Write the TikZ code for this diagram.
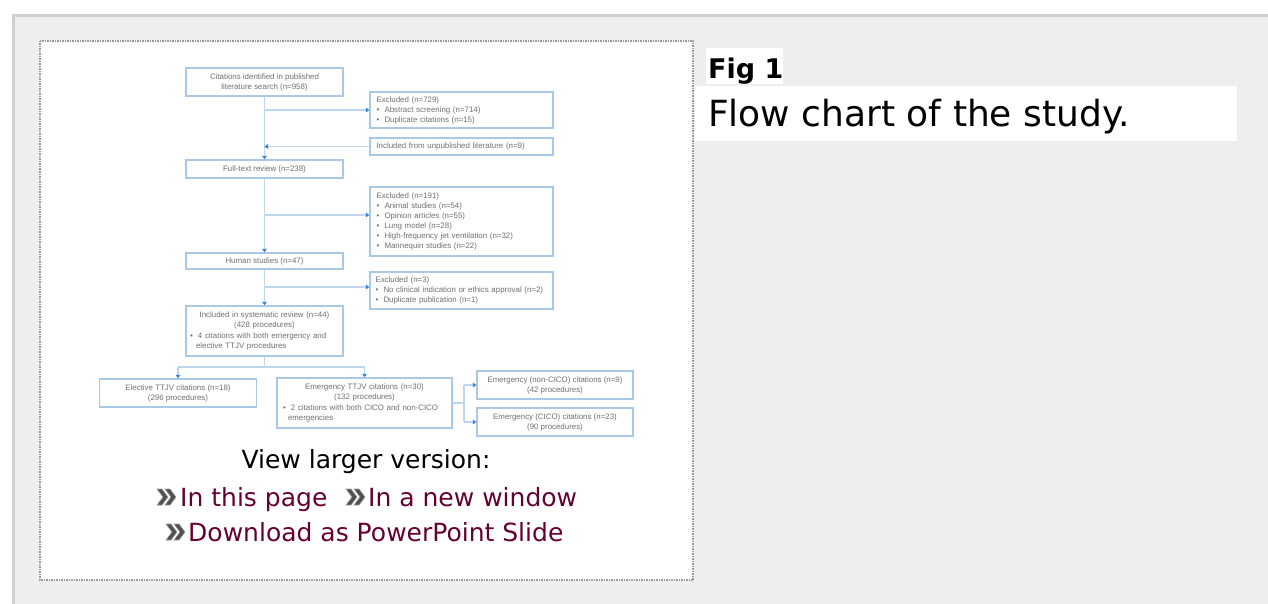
\documentclass[tikz,border=0pt]{standalone}
\usepackage{fontspec}
\setmainfont{DejaVu Sans}
\newfontfamily\boxfont{Liberation Sans}
\usetikzlibrary{arrows.meta}
\definecolor{outerbg}{HTML}{EEEEEE}
\definecolor{outerline}{HTML}{CFCFCF}
\definecolor{dotgray}{HTML}{9A9A9A}
\definecolor{boxblue}{HTML}{A9C9E9}
\definecolor{linkblue}{HTML}{BCD6EF}
\definecolor{tipblue}{HTML}{3C7FC8}
\definecolor{boxtext}{HTML}{707070}
\definecolor{linkred}{HTML}{660033}
\definecolor{chev}{HTML}{505050}
\definecolor{chevlight}{HTML}{9A9A9A}
\newcommand{\bitem}[1]{\makebox[8pt][l]{\textbullet}#1}
\tikzset{
  fcbox/.style={draw=boxblue, line width=1.3pt, fill=white, text=boxtext, inner sep=0pt,
    font=\boxfont\fontsize{7.9}{10}\selectfont, align=center},
  fclist/.style={fcbox, align=left},
  conn/.style={draw=linkblue, line width=1.6pt},
  arr/.style={conn, -{Triangle[length=3.5pt,width=4.5pt,color=tipblue]}},
  webtxt/.style={inner sep=0pt, anchor=base west, font=\fontsize{25}{30}\selectfont},
  link/.style={webtxt, text=linkred},
  dchev/.pic={
    \fill[chev, draw=chevlight, line width=0.6pt] (0,0)--(5,0)--(11,8)--(5,16)--(0,16)--(6,8)--cycle;
    \fill[chev, draw=chevlight, line width=0.6pt] (8,0)--(13,0)--(19,8)--(13,16)--(8,16)--(14,8)--cycle;
  },
}
\begin{document}
\begin{tikzpicture}[x=1pt, y=-1pt]
\useasboundingbox (0,0) rectangle (1268,604);
% page background
\fill[white] (0,0) rectangle (1268,604);
\fill[outerbg] (12,14) rectangle (1268,604);
\fill[outerline] (12,14) rectangle (1268,17);
\fill[outerline] (12,14) rectangle (15,604);
% figure panel
\draw[dotgray, line width=1.5pt, dash pattern=on 1.5pt off 1pt, fill=white] (40,41) rectangle (693,580);

% flow chart boxes
\node[fcbox, minimum width=157pt, minimum height=28pt] (b1) at (264.5,82)
  {Citations identified in published\\literature search (n=958)};
\node[fclist, minimum width=183pt, minimum height=36pt, text width=170pt] (e1) at (461.5,110)
  {Excluded (n=729)\\\bitem{Abstract screening (n=714)}\\\bitem{Duplicate citations (n=15)}};
\node[fclist, minimum width=183pt, minimum height=17pt, text width=170pt] (u1) at (461.5,146.5)
  {Included from unpublished literature (n=9)};
\node[fcbox, minimum width=157pt, minimum height=18pt] (b2) at (264.5,169)
  {Full-text review (n=238)};
\node[fclist, minimum width=183pt, minimum height=69pt, text width=170pt] (e2) at (461.5,221.5)
  {Excluded (n=191)\\\bitem{Animal studies (n=54)}\\\bitem{Opinion articles (n=55)}\\\bitem{Lung model (n=28)}\\\bitem{High-frequency jet ventilation (n=32)}\\\bitem{Mannequin studies (n=22)}};
\node[fcbox, minimum width=157pt, minimum height=16pt] (b3) at (264.5,261)
  {Human studies (n=47)};
\node[fclist, minimum width=183pt, minimum height=37pt, text width=172pt] (e3) at (461.5,290.5)
  {Excluded (n=3)\\\bitem{No clinical indication or ethics approval (n=2)}\\\bitem{Duplicate publication (n=1)}};
\node[fclist, minimum width=157pt, minimum height=50pt, text width=149pt] (b4) at (264.5,331)
  {\makebox[149pt]{Included in systematic review (n=44)}\\\makebox[149pt]{(428 procedures)}\\[1.5pt]\bitem{4 citations with both emergency and}\\\hspace*{6pt}elective TTJV procedures};
\node[fcbox, minimum width=157pt, minimum height=28pt] (b5) at (178,393)
  {Elective TTJV citations (n=18)\\(296 procedures)};
\node[fclist, minimum width=175pt, minimum height=50pt, text width=163pt] (b6) at (364.5,403)
  {\makebox[163pt]{Emergency TTJV citations (n=30)}\\\makebox[163pt]{(132 procedures)}\\[1pt]\bitem{2 citations with both CICO and non-CICO}\\\hspace*{5pt}emergencies};
\node[fcbox, minimum width=156pt, minimum height=28pt] (b7) at (555,385)
  {Emergency (non-CICO) citations (n=9)\\(42 procedures)};
\node[fcbox, minimum width=156pt, minimum height=28pt] (b8) at (555,422)
  {Emergency (CICO) citations (n=23)\\(90 procedures)};

% connectors
\draw[arr] (b1.south) -- (b2.north);
\coordinate (j1) at (b1.south |- e1.west);
\draw[arr] (j1) -- (e1.west);
\coordinate (j2) at (u1.west -| b1.south);
\draw[arr] (u1.west) -- (j2);
\draw[arr] (b2.south) -- (b3.north);
\coordinate (j3) at (264.5,215);
\coordinate (k3) at (e2.west |- j3);
\draw[arr] (j3) -- (k3);
\draw[arr] (b3.south) -- (b4.north);
\coordinate (j4) at (264.5,287);
\coordinate (k4) at (e3.west |- j4);
\draw[arr] (j4) -- (k4);
\coordinate (s0) at (264.5,367);
\coordinate (s1) at (b5.north |- s0);
\coordinate (s2) at (b6.north |- s0);
\draw[conn] (b4.south) -- (s0);
\draw[conn] (s1) -- (s2);
\draw[arr] (s1) -- (b5.north);
\draw[arr] (s2) -- (b6.north);
\coordinate (r0) at (464,403);
\coordinate (r1) at (r0 |- b7.west);
\coordinate (r2) at (r0 |- b8.west);
\draw[conn] (b6.east) -- (r0);
\draw[conn] (r1) -- (r2);
\draw[arr] (r1) -- (b7.west);
\draw[arr] (r2) -- (b8.west);

% links below the figure
\node[webtxt, anchor=base] (vl) at (366,468) {View larger version:};
\pic at (157,489) {dchev};
\node[link] (l1) at (180,506) {In this page};
\pic at (346,489) {dchev};
\node[link] (l2) at (368,506) {In a new window};
\pic at (166,524) {dchev};
\node[link] (l3) at (188,541) {Download as PowerPoint Slide};

% caption
\node[fill=white, inner sep=0pt, minimum width=77pt, minimum height=36pt, anchor=north west] (figbox) at (706,48) {};
\node[inner sep=0pt, anchor=base west, font=\bfseries\fontsize{27}{30}\selectfont] (fig) at (708,79) {Fig 1};
\node[fill=white, inner sep=0pt, minimum width=542pt, minimum height=55pt, anchor=north west] (capbox) at (695,86) {};
\node[inner sep=0pt, anchor=base west, font=\fontsize{36}{40}\selectfont] (cap) at (708,127) {Flow chart of the study.};
\end{tikzpicture}
\end{document}
